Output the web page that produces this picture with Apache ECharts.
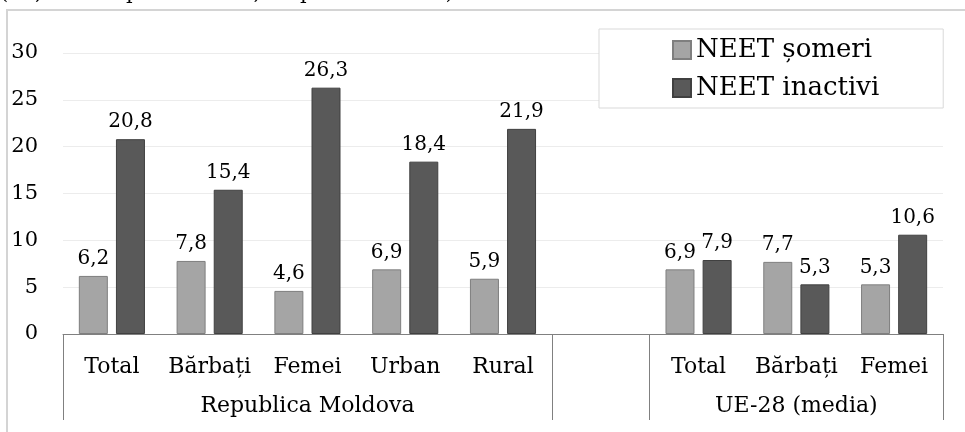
<!DOCTYPE html>
<html>
<head>
<meta charset="utf-8">
<script src="https://cdn.jsdelivr.net/npm/echarts@6/dist/echarts.min.js"></script>
<style>html,body{margin:0;padding:0;background:#fff}#c{width:965px;height:432px}</style>
</head>
<body>
<div id="c"></div>
<script>
var categories = ['Total', 'Bărbați', 'Femei', 'Urban', 'Rural', '', 'Total', 'Bărbați', 'Femei'];
var groupLabels = ['', '', 'Republica Moldova', '', '', '', '', 'UE-28 (media)', ''];
var groupBoundaries = [0, 5, 6];
var someri = [6.2, 7.8, 4.6, 6.9, 5.9, null, 6.9, 7.7, 5.3];
var inactivi = [20.8, 15.4, 26.3, 18.4, 21.9, null, 7.9, 5.3, 10.6];
var seriesNames = ['NEET șomeri', 'NEET inactivi'];
var yTicks = [0, 5, 10, 15, 20, 25, 30];
var topNote = '(55,5% comparativ cu 7,4% pentru UE-28)';

var FONT = 'DejaVu Serif';
var chart = echarts.init(document.getElementById('c'));
function fmt(p) { return p.value == null ? '' : String(p.value).replace('.', ','); }
chart.setOption({
  animation: false,
  textStyle: { fontFamily: FONT },
  graphic: [
    { type: 'rect', shape: { x: 7, y: 10, width: 980, height: 440 }, style: { fill: 'none', stroke: '#d4d4d4', lineWidth: 2 }, silent: true },
    { type: 'text', x: 0, y: -17, style: { text: topNote, font: '21px "DejaVu Serif"', fill: '#000' }, silent: true }
  ],
  legend: {
    orient: 'vertical',
    left: 599, top: 29,
    padding: [8, 64, 7, 73],
    itemGap: 12,
    itemWidth: 18, itemHeight: 18,
    icon: 'rect',
    backgroundColor: '#fff',
    borderColor: '#d9d9d9', borderWidth: 1,
    textStyle: { fontFamily: FONT, fontSize: 26, color: '#000' },
    data: seriesNames
  },
  grid: { left: 63, right: 22, top: 53, bottom: 98, containLabel: false },
  xAxis: [
    {
      type: 'category', data: categories,
      axisLine: { lineStyle: { color: '#808080', width: 1 } },
      axisTick: { show: true, length: 86, lineStyle: { color: '#808080' },
        interval: function (i) { return groupBoundaries.indexOf(i) >= 0; } },
      axisLabel: { interval: 0, margin: 22, fontFamily: FONT, fontSize: 22, color: '#000' }
    },
    {
      type: 'category', data: groupLabels, position: 'bottom',
      axisLine: { show: false }, axisTick: { show: false },
      axisLabel: { interval: 0, margin: 61, fontFamily: FONT, fontSize: 22, color: '#000' }
    }
  ],
  yAxis: {
    type: 'value', min: 0, max: 30, interval: 5,
    axisLine: { show: false }, axisTick: { show: false },
    splitLine: { lineStyle: { color: '#ececec', width: 1 } },
    axisLabel: { margin: 25, fontFamily: FONT, fontSize: 21, color: '#000',
      formatter: function (v) { return yTicks.indexOf(v) >= 0 ? String(v) : ''; } }
  },
  series: [
    {
      name: seriesNames[0], type: 'bar', data: someri, barWidth: 29, barGap: '28%',
      itemStyle: { color: '#a5a5a5', borderColor: '#7f7f7f', borderWidth: 1 },
      label: { show: true, position: 'top', distance: 7, fontFamily: FONT, fontSize: 20, color: '#000', formatter: fmt }
    },
    {
      name: seriesNames[1], type: 'bar', data: inactivi, barWidth: 29,
      itemStyle: { color: '#595959', borderColor: '#404040', borderWidth: 1 },
      label: { show: true, position: 'top', distance: 7, fontFamily: FONT, fontSize: 20, color: '#000', formatter: fmt }
    }
  ]
});
</script>
</body>
</html>
